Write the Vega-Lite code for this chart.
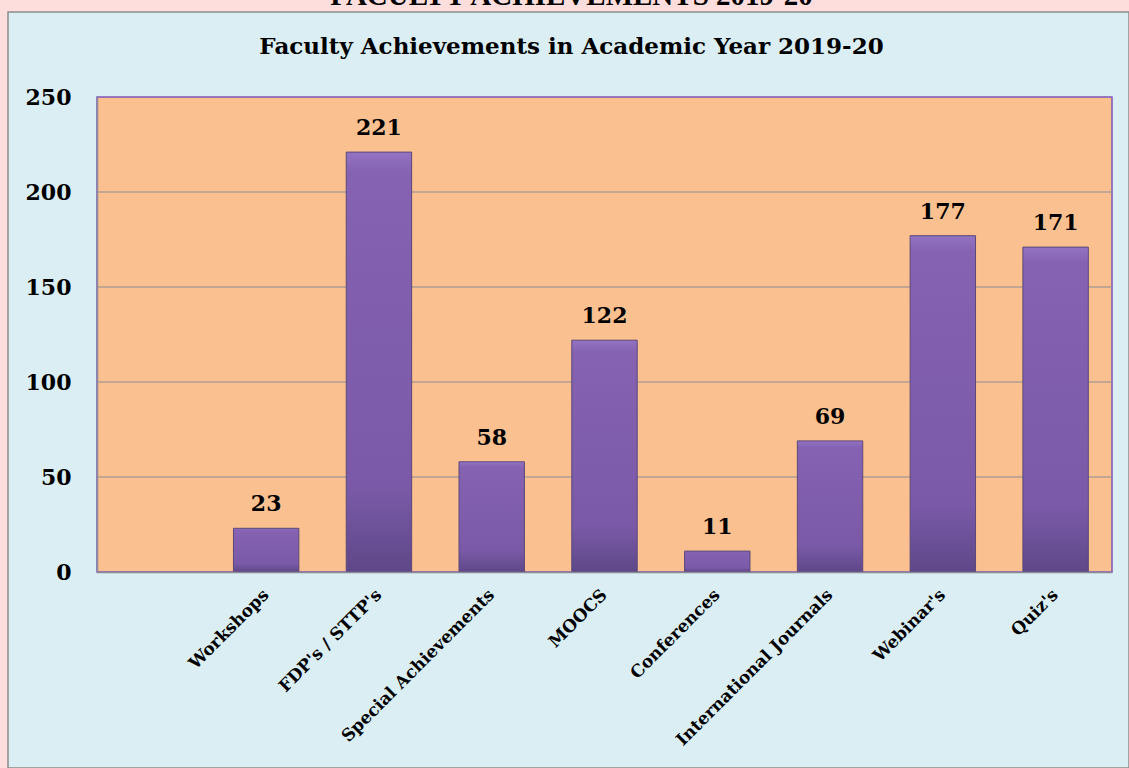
{
  "$schema": "https://vega.github.io/schema/vega-lite/v6.json",
  "width": 1121,
  "height": 756,
  "autosize": {"type": "none"},
  "padding": {"left": 8, "top": 12, "right": 0, "bottom": 0},
  "background": "#FDDEDD",
  "config": {
    "view": {"fill": "#DAEEF3", "stroke": "#8C8C8C", "strokeWidth": 1.5},
    "font": "DejaVu Serif"
  },
  "title": {
    "text": "FACULTY ACHIEVEMENTS 2019-20",
    "subtitle": "Faculty Achievements in Academic Year 2019-20",
    "anchor": "middle",
    "frame": "group",
    "offset": -47,
    "dx": 3,
    "font": "Liberation Serif",
    "fontSize": 29,
    "fontWeight": "bold",
    "color": "#000000",
    "subtitleFont": "DejaVu Serif",
    "subtitleFontSize": 23,
    "subtitleFontWeight": "bold",
    "subtitleColor": "#000000",
    "subtitlePadding": 25
  },
  "datasets": {
    "achievements": [
      {"category": " ", "count": null},
      {"category": "Workshops", "count": 23},
      {"category": "FDP's / STTP's", "count": 221},
      {"category": "Special Achievements", "count": 58},
      {"category": "MOOCS", "count": 122},
      {"category": "Conferences", "count": 11},
      {"category": "International Journals", "count": 69},
      {"category": "Webinar's", "count": 177},
      {"category": "Quiz's", "count": 171}
    ],
    "gridlines": [
      {"level": 50},
      {"level": 100},
      {"level": 150},
      {"level": 200}
    ]
  },
  "resolve": {"scale": {"x": "shared", "y": "shared"}},
  "layer": [
    {
      "data": {"values": [{"plot": "area"}]},
      "mark": {"type": "rect", "fill": "#FAC090", "stroke": "#7F56B8", "strokeWidth": 1.5},
      "encoding": {
        "x": {
          "datum": " ",
          "type": "nominal",
          "bandPosition": 0,
          "scale": {
            "domain": [" ", "Workshops", "FDP's / STTP's", "Special Achievements", "MOOCS", "Conferences", "International Journals", "Webinar's", "Quiz's"],
            "range": [89, 1104],
            "paddingInner": 0,
            "paddingOuter": 0
          },
          "axis": {
            "title": null,
            "orient": "bottom",
            "offset": -196,
            "zindex": 1,
            "domainColor": "#8A8A98",
            "domainWidth": 1.5,
            "ticks": false,
            "tickSize": 0,
            "labelAngle": -45,
            "labelAlign": "right",
            "labelBaseline": "middle",
            "labelPadding": 20,
            "labelFont": "DejaVu Serif",
            "labelFontSize": 17,
            "labelFontWeight": "bold",
            "labelColor": "#000000",
            "labelOverlap": false,
            "labelLimit": 400,
            "grid": false
          }
        },
        "x2": {"datum": "Quiz's", "bandPosition": 1},
        "y": {
          "datum": 0,
          "type": "quantitative",
          "scale": {"domain": [0, 250], "range": [560, 85], "nice": false, "zero": true},
          "axis": {
            "title": null,
            "orient": "left",
            "offset": -89,
            "zindex": 1,
            "values": [0, 50, 100, 150, 200, 250],
            "domainColor": "#8A8A98",
            "domainWidth": 1.5,
            "ticks": false,
            "tickSize": 0,
            "labelPadding": 26,
            "labelFont": "DejaVu Serif",
            "labelFontSize": 22,
            "labelFontWeight": "bold",
            "labelColor": "#000000",
            "labelBaseline": "middle",
            "grid": false
          }
        },
        "y2": {"datum": 250}
      }
    },
    {
      "data": {"name": "gridlines"},
      "mark": {"type": "rule", "color": "#8C8C94", "strokeWidth": 1.2},
      "encoding": {
        "x": {"datum": " ", "type": "nominal", "bandPosition": 0},
        "x2": {"datum": "Quiz's", "bandPosition": 1},
        "y": {"field": "level", "type": "quantitative"}
      }
    },
    {
      "data": {"name": "achievements"},
      "mark": {
        "type": "bar",
        "width": {"band": 0.58},
        "color": {
          "gradient": "linear",
          "x1": 0, "y1": 0, "x2": 0, "y2": 1,
          "stops": [
            {"offset": 0, "color": "#9373C2"},
            {"offset": 0.05, "color": "#8562B2"},
            {"offset": 0.8, "color": "#7A5AA8"},
            {"offset": 1, "color": "#5E4788"}
          ]
        },
        "stroke": "#5B4878",
        "strokeWidth": 1
      },
      "encoding": {
        "x": {"field": "category", "type": "nominal"},
        "y": {"field": "count", "type": "quantitative"}
      }
    },
    {
      "data": {"name": "achievements"},
      "mark": {
        "type": "text",
        "baseline": "alphabetic",
        "align": "center",
        "dy": -17,
        "font": "DejaVu Serif",
        "fontSize": 22,
        "fontWeight": "bold",
        "color": "#000000"
      },
      "encoding": {
        "x": {"field": "category", "type": "nominal"},
        "y": {"field": "count", "type": "quantitative"},
        "text": {"field": "count", "type": "quantitative"}
      }
    }
  ]
}
